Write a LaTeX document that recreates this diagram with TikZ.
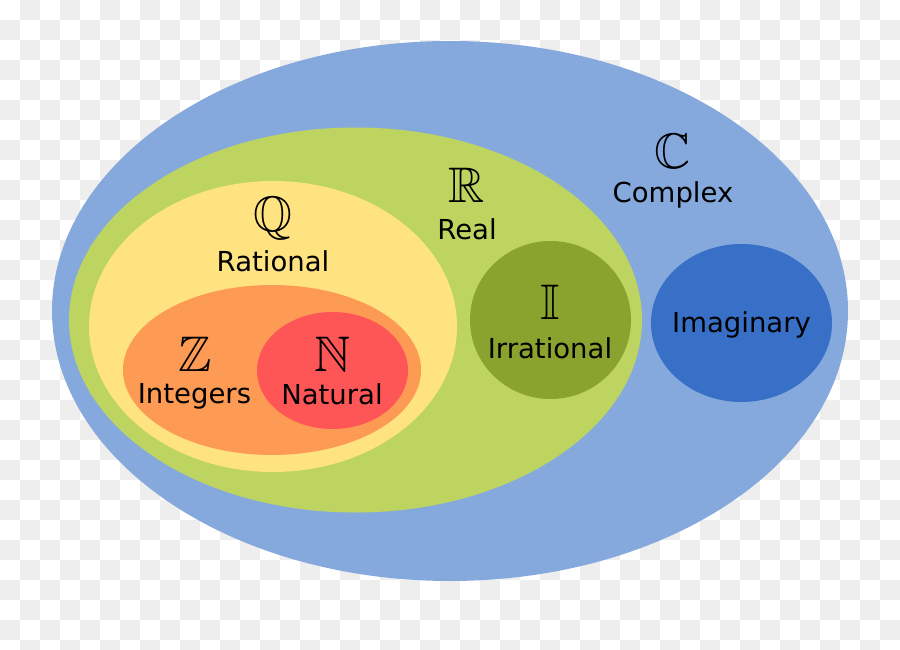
\documentclass[tikz,border=0pt]{standalone}
\usepackage{amssymb}
\usepackage{fontspec}
\setmainfont{DejaVu Sans}
\usetikzlibrary{shapes.geometric}

\definecolor{checkgray}{RGB}{238,238,238}
\definecolor{complexblue}{RGB}{133,169,221}
\definecolor{realgreen}{RGB}{189,212,96}
\definecolor{rationalyellow}{RGB}{254,227,128}
\definecolor{integerorange}{RGB}{253,154,84}
\definecolor{naturalred}{RGB}{254,86,86}
\definecolor{irrationalolive}{RGB}{138,162,46}
\definecolor{imaginaryblue}{RGB}{56,112,200}

\tikzset{
  setshape/.style={ellipse, inner sep=0pt, draw=none},
  lbl/.style={anchor=base, inner sep=0pt, font=\fontsize{27.5}{33}\selectfont},
  sym/.style={anchor=base, inner sep=0pt, font=\fontsize{50}{60}\selectfont},
}

\begin{document}
\begin{tikzpicture}[x=1pt,y=-1pt]
\useasboundingbox (0,0) rectangle (900,650);
\clip (0,0) rectangle (900,650);
\fill[white] (0,0) rectangle (900,650);
% checkerboard background
\foreach \j in {0,...,32}{
  \pgfmathtruncatemacro{\rowshift}{mod(\j+1,2)}
  \foreach \i in {0,...,22}{
    \fill[checkgray] ({20*(2*\i+\rowshift)},{20*\j}) rectangle ++(20,20);
  }
}
% sets
\node[setshape, fill=complexblue, minimum width=796, minimum height=540] (complex) at (450,311) {};
\node[setshape, fill=realgreen, minimum width=573, minimum height=385] (real) at (355.5,320) {};
\node[setshape, fill=rationalyellow, minimum width=368, minimum height=291] (rational) at (273,326.5) {};
\node[setshape, fill=integerorange, minimum width=298, minimum height=170] (integers) at (272,370) {};
\node[setshape, fill=naturalred, minimum width=151, minimum height=117] (natural) at (332.5,370.5) {};
\node[setshape, fill=irrationalolive, minimum width=161, minimum height=158] (irrational) at (550.5,320) {};
\node[setshape, fill=imaginaryblue, minimum width=181, minimum height=158] (imaginary) at (741.5,323) {};
% labels
\node[sym] (symC) at (673,168) {$\mathbb{C}$};
\node[lbl] (lblC) at (673,203) {Complex};
\node[sym] (symR) at (467,203) {$\mathbb{R}$};
\node[lbl] (lblR) at (467,239) {Real};
\node[sym] (symQ) at (273,231) {$\mathbb{Q}$};
\node[lbl] (lblQ) at (273,271) {Rational};
\node[sym] (symZ) at (195,371) {$\mathbb{Z}$};
\node[lbl] (lblZ) at (194.5,403) {Integers};
\node[sym] (symN) at (333,371) {$\mathbb{N}$};
\node[lbl] (lblN) at (332,404) {Natural};
\node[sym] (symI) at (550,319) {$\mathbb{I}$};
\node[lbl] (lblI) at (550,358) {Irrational};
\node[lbl] (lblIm) at (741.5,332) {Imaginary};
\end{tikzpicture}
\end{document}
